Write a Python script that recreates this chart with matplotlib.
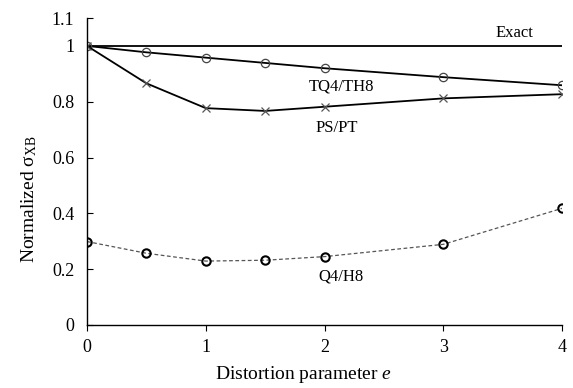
import matplotlib
matplotlib.use("Agg")
import matplotlib.pyplot as plt

e_vals = [0, 0.5, 1, 1.5, 2, 3, 4]
exact = [1, 1, 1, 1, 1, 1, 1]
tq4_th8 = [1.0, 0.977, 0.958, 0.939, 0.920, 0.888, 0.859]
ps_pt = [1.0, 0.866, 0.777, 0.767, 0.782, 0.812, 0.827]
q4_h8 = [0.299, 0.257, 0.229, 0.232, 0.245, 0.289, 0.418]
x_ticks = [0, 1, 2, 3, 4]
y_ticks = [0, 0.2, 0.4, 0.6, 0.8, 1.0, 1.1]
y_tick_labels = ["0", "0.2", "0.4", "0.6", "0.8", "1", "1.1"]

plt.rcParams['font.family'] = ['Liberation Serif', 'DejaVu Serif']
plt.rcParams['mathtext.fontset'] = 'custom'
plt.rcParams['mathtext.rm'] = 'Liberation Serif'
plt.rcParams['mathtext.it'] = 'Liberation Serif:italic'

fig = plt.figure(figsize=(5.73, 3.88), dpi=100)
ax = fig.add_axes([0.1518, 0.1624, 0.8292, 0.7912])

ax.plot(e_vals, exact, color='black', lw=1.3)
ax.plot(e_vals, tq4_th8, color='black', lw=1.3, marker='o', ms=6,
        mfc='none', mec='#444444', mew=0.9)
ax.plot(e_vals, ps_pt, color='black', lw=1.3, marker='x', ms=6,
        mec='#555555', mew=0.9)
ax.plot(e_vals, q4_h8, color='#555555', lw=0.9, ls=(0, (3, 2)), marker='o', ms=6,
        mfc='none', mec='black', mew=1.5)

ax.text(3.6, 1.048, "Exact", fontsize=12, ha='center', va='center')
ax.text(2.14, 0.855, "TQ4/TH8", fontsize=12, ha='center', va='center')
ax.text(2.1, 0.705, "PS/PT", fontsize=12, ha='center', va='center')
ax.text(2.14, 0.172, "Q4/H8", fontsize=12, ha='center', va='center')

ax.set_xlim(0, 4)
ax.set_ylim(0, 1.1)
ax.set_xticks(x_ticks)
ax.set_xticklabels([str(t) for t in x_ticks])
ax.set_yticks(y_ticks)
ax.set_yticklabels(y_tick_labels)
ax.tick_params(axis='x', direction='out', length=4, labelsize=13, pad=6)
ax.tick_params(axis='y', direction='in', length=4, labelsize=13, pad=9)
for s in ['top', 'right']:
    ax.spines[s].set_visible(False)
for s in ['left', 'bottom']:
    ax.spines[s].set_linewidth(1.0)

ax.set_xlabel("Distortion parameter $\\mathit{e}$", fontsize=14)
ax.set_ylabel("Normalized σ$_{\\mathrm{XB}}$", fontsize=14)
ax.xaxis.set_label_coords(0.455, -0.128)
ax.yaxis.set_label_coords(-0.102, 0.41)

fig.savefig("out.png", dpi=100)
